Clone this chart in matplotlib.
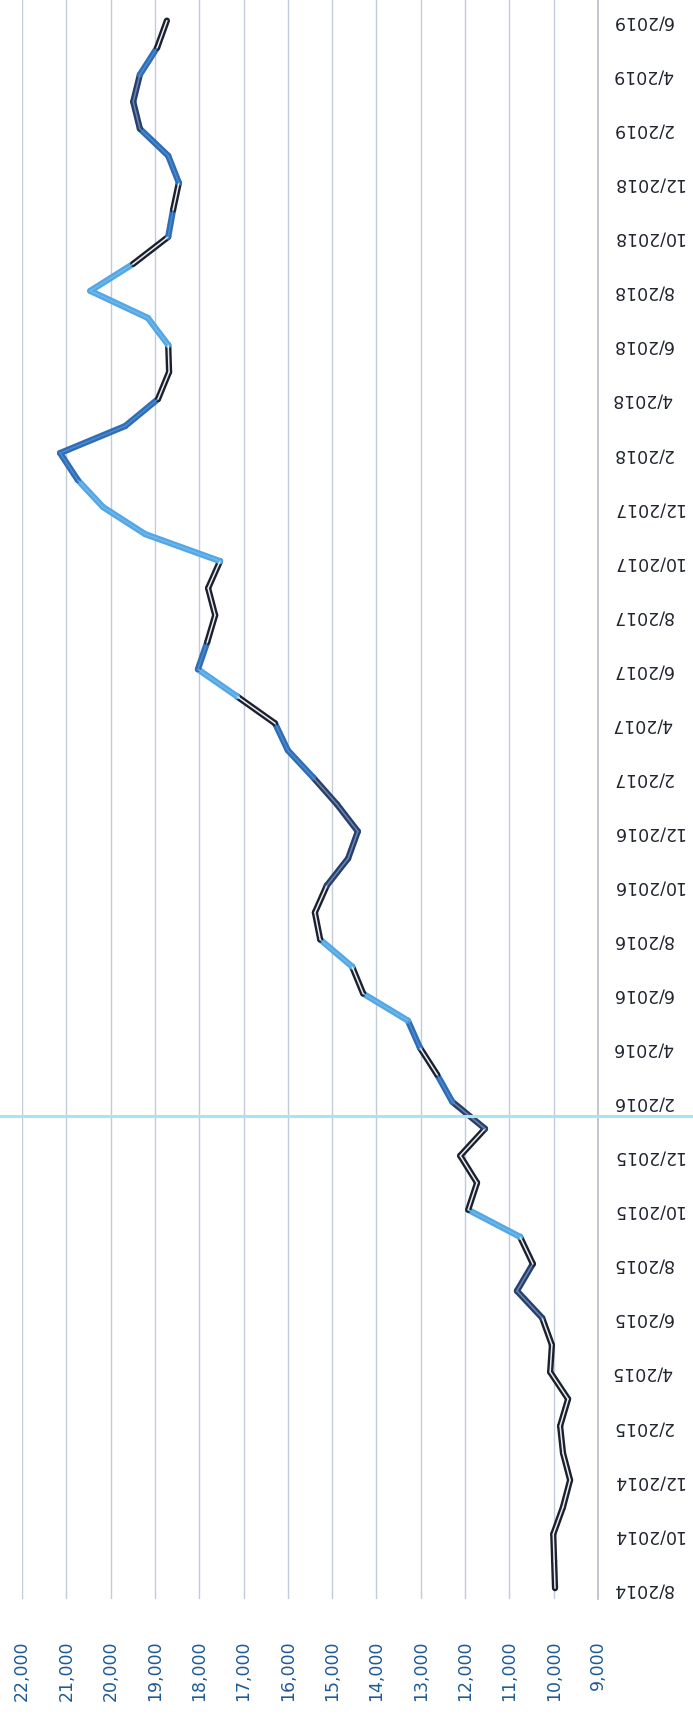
import numpy as np
import matplotlib
matplotlib.use("Agg")
import matplotlib.pyplot as plt
from matplotlib.collections import LineCollection
from matplotlib.lines import Line2D

# monthly values, 8/2014 .. 6/2019
values = [9970, 9990, 10010, 9790, 9630, 9790, 9855, 9675, 10080, 10040,
          10260, 10830, 10470, 10760, 11930, 11730, 12110, 11550, 12290, 12630,
          13020, 13290, 14300, 14550, 15270, 15390, 15120, 14640, 14420, 14890,
          15430, 16000, 16290, 17150, 18030, 17820, 17640, 17800, 17530, 19220,
          20170, 20740, 21140, 19670, 18930, 18680, 18700, 19160, 20460, 19490,
          18700, 18590, 18460, 18700, 19340, 19490, 19340, 18950, 18730]

date_labels = ["8/2014", "10/2014", "12/2014", "2/2015", "4/2015", "6/2015",
               "8/2015", "10/2015", "12/2015", "2/2016", "4/2016", "6/2016",
               "8/2016", "10/2016", "12/2016", "2/2017", "4/2017", "6/2017",
               "8/2017", "10/2017", "12/2017", "2/2018", "4/2018", "6/2018",
               "8/2018", "10/2018", "12/2018", "2/2019", "4/2019", "6/2019"]

value_ticks = list(range(9000, 23000, 1000))

# colour of each segment as it came out of the scan
seg_codes = "dddddddddd" + "nn" + "d" + "l" + "ddd" + "n" + "bdb" + "l" + "d" + "l" + \
            "dd" + "nnnn" + "bb" + "d" + "l" + "bddd" + "lllb" + "bb" + "dd" + "ll" + \
            "l" + "dbd" + "bb" + "nn" + "bd"
outer = {"d": "#1b202c", "n": "#263f6c", "b": "#2f6db5", "l": "#55a7e4"}
inner = {"d": "#e8ecf2", "n": "#6d86b0", "b": "#4b8ad0", "l": "#6cb8ee"}

fig = plt.figure(figsize=(6.93, 17.15), dpi=100)
ax = fig.add_axes([22 / 693, 115 / 1715, (598 - 22) / 693, 1600 / 1715])

t = np.arange(len(values))
pts = np.column_stack([values, t])
segs = np.stack([pts[:-1], pts[1:]], axis=1)

lc1 = LineCollection(segs, colors=[outer[c] for c in seg_codes], linewidths=4.5,
                     capstyle="round", joinstyle="round", zorder=3)
lc2 = LineCollection(segs, colors=[inner[c] for c in seg_codes], linewidths=1.1,
                     capstyle="round", joinstyle="round", zorder=4)
ax.add_collection(lc1)
ax.add_collection(lc2)

ax.set_xlim(22000, 9000)
ax.set_ylim(-0.4, 58.8)

ax.set_xticks(value_ticks)
ax.set_xticklabels([f"{v:,}" for v in value_ticks], rotation=90,
                   color="#1f5a96", fontsize=12.5)
ax.tick_params(axis="x", length=0, pad=29)
for v in value_ticks[1:]:
    ax.axvline(v, color="#c3cad8", lw=1.0, zorder=1)

ax.yaxis.tick_right()
ax.set_yticks(t[::2])
ax.set_yticklabels(date_labels, rotation=180, ha="left", va="center",
                   color="#20242e", fontsize=12.5)
ax.tick_params(axis="y", length=0, pad=10)

for s in ["top", "left", "bottom"]:
    ax.spines[s].set_visible(False)
ax.spines["right"].set_color("#b8bcc6")
ax.spines["right"].set_linewidth(1.2)

# scanner streak across the page
fig.add_artist(Line2D([0, 1], [1 - 1117 / 1715] * 2, transform=fig.transFigure,
                      color="#a8e4f4", lw=2.2))

fig.savefig("out.png", dpi=100, facecolor="white")
